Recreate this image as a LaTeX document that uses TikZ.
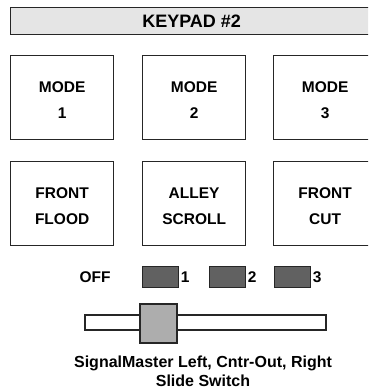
\documentclass[tikz,border=0pt]{standalone}
\usepackage{fontspec}
\setmainfont{Liberation Sans}
\usetikzlibrary{positioning}

\begin{document}
\begin{tikzpicture}[
    x=1pt, y=-1pt,
    key/.style={
      draw=black!85, line width=1.3pt, fill=white, align=center,
      minimum width=103pt, minimum height=84pt, inner sep=0pt,
      text height=41pt, text depth=0pt,
      anchor=north west, font=\fontsize{15.5}{25.5}\selectfont\bfseries
    },
    titlebar/.style={
      draw=black!85, line width=1.3pt, fill=black!10, anchor=north west,
      minimum width=362pt, minimum height=27pt, inner sep=0pt,
      font=\fontsize{18}{20}\selectfont\bfseries
    },
    lamp/.style={
      draw=black!85, line width=1.2pt, fill=black!62, anchor=north west,
      minimum width=36pt, minimum height=21pt, inner sep=0pt
    },
    lbl/.style={inner sep=0pt, font=\fontsize{15.5}{18}\selectfont\bfseries},
    track/.style={
      draw=black!85, line width=1.2pt, fill=white,
      minimum width=241pt, minimum height=15pt, inner sep=0pt
    },
    knob/.style={
      draw=black!85, line width=1.2pt, fill=black!32,
      minimum width=37pt, minimum height=39pt, inner sep=0pt
    },
    caption/.style={align=center, inner sep=0pt,
      font=\fontsize{16}{19}\selectfont\bfseries}
  ]
    \clip (0,0) rectangle (368,391);

    \node[titlebar] (title) at (10,7) {KEYPAD \#2};

    % mode keys
    \node[key] (mode1) at (10,55) {MODE\\1};
    \node[key] (mode2) at (142,55) {MODE\\2};
    \node[key] (mode3) at (273,55) {MODE\\3};

    % function keys
    \node[key] (flood) at (10,161) {FRONT\\FLOOD};
    \node[key] (alley) at (142,161) {ALLEY\\SCROLL};
    \node[key] (cut) at (273,161) {FRONT\\CUT};

    % position lamps
    \node[lbl] (off) at (95,277) {OFF};
    \node[lamp] (lamp1) at (142,266) {};
    \node[lamp] (lamp2) at (209,266) {};
    \node[lamp] (lamp3) at (274,266) {};
    \node[lbl,right=1.5pt of lamp1] (num1) {1};
    \node[lbl,right=1.5pt of lamp2] (num2) {2};
    \node[lbl,right=1.5pt of lamp3] (num3) {3};

    % slide switch
    \node[track] (track) at (205.5,322.5) {};
    \node[knob] (knob) at (158.5,323.5) {};

    \node[caption] (caption) at (203,371) {SignalMaster Left, Cntr-Out, Right\\Slide Switch};
  \end{tikzpicture}
\end{document}
